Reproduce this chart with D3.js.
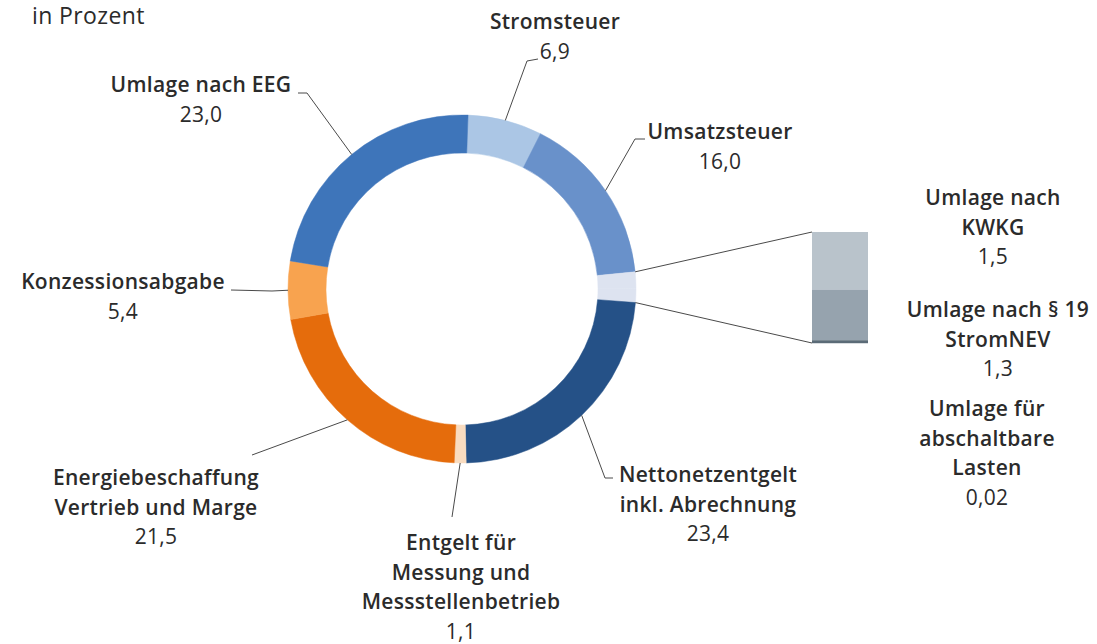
<!DOCTYPE html>
<html>
<head>
<meta charset="utf-8">
<script src="https://cdn.jsdelivr.net/npm/d3@7"></script>
<style>
  body { margin: 0; background: #fff; }
  text { font-family: "Open Sans", "Noto Sans", sans-serif; fill: #2b2b2b; }
</style>
</head>
<body>
<script>
// Anteile am Strompreis, in Prozent
const categories = ["Stromsteuer", "Umsatzsteuer", "Umlage nach KWKG", "Umlage nach § 19 StromNEV",
  "Umlage für abschaltbare Lasten", "Nettonetzentgelt inkl. Abrechnung",
  "Entgelt für Messung und Messstellenbetrieb", "Energiebeschaffung Vertrieb und Marge",
  "Konzessionsabgabe", "Umlage nach EEG"];
const values = [6.9, 16.0, 1.5, 1.3, 0.02, 23.4, 1.1, 21.5, 5.4, 23.0];
const labelLines = [["Stromsteuer"], ["Umsatzsteuer"], ["Umlage nach", "KWKG"], ["Umlage nach § 19", "StromNEV"],
  ["Umlage für", "abschaltbare", "Lasten"], ["Nettonetzentgelt", "inkl. Abrechnung"],
  ["Entgelt für", "Messung und", "Messstellenbetrieb"], ["Energiebeschaffung", "Vertrieb und Marge"],
  ["Konzessionsabgabe"], ["Umlage nach EEG"]];
// die drei kleinen Umlagen werden rechts als Saeule aufgeklappt
const detail = ["Umlage nach KWKG", "Umlage nach § 19 StromNEV", "Umlage für abschaltbare Lasten"];

const ringColors = ["#abc6e5", "#6991ca", "#dde3f0", "#dde3f0", "#dde3f0", "#255187",
  "#f9dcc0", "#e56c0c", "#f8a34f", "#3e75ba"];
const barColors = ["#b9c3cb", "#96a3ae", "#5b6b77"];

const W = 1097, H = 644;
const cx = 462, cy = 289, rOut = 174, rIn = 136;
const startOff = 2 * Math.PI / 180;

// Position der Beschriftungen (x Mitte, y erste Grundlinie) und Knick der Fuehrungslinie
const labelPos = {
  "Stromsteuer": { x: 555, y: 29, pts: [[527, 61], [538, 59]] },
  "Umsatzsteuer": { x: 720, y: 139, pts: [[635, 139], [645, 139]] },
  "Umlage nach KWKG": { x: 993, y: 205 },
  "Umlage nach § 19 StromNEV": { x: 998, y: 317 },
  "Umlage für abschaltbare Lasten": { x: 987, y: 416 },
  "Nettonetzentgelt inkl. Abrechnung": { x: 708, y: 482, pts: [[605, 478], [613, 478]] },
  "Entgelt für Messung und Messstellenbetrieb": { x: 461, y: 550, pts: [[452, 517]] },
  "Energiebeschaffung Vertrieb und Marge": { x: 156, y: 485, pts: [[252, 455]] },
  "Konzessionsabgabe": { x: 123, y: 289, pts: [[272, 291], [231, 290]] },
  "Umlage nach EEG": { x: 201, y: 92, pts: [[307, 93], [298, 93]] }
};

const de = d3.formatLocale({ decimal: ",", thousands: ".", grouping: [3], currency: ["", " €"] });
const fmt = v => v < 0.1 ? de.format(".2f")(v) : de.format(".1f")(v);

const data = categories.map((c, i) => ({ name: c, value: values[i], lines: labelLines[i], color: ringColors[i] }));

const svg = d3.select("body").append("svg").attr("width", W).attr("height", H);
svg.append("rect").attr("width", W).attr("height", H).attr("fill", "#fff");

svg.append("text").attr("x", 32).attr("y", 24)
  .style("font-size", "23px").style("letter-spacing", "0.4px")
  .text("in Prozent");

const pie = d3.pie().sort(null).value(d => d.value)
  .startAngle(startOff).endAngle(startOff + 2 * Math.PI);
const arcs = pie(data);
const arc = d3.arc().innerRadius(rIn).outerRadius(rOut);
const edge = d3.arc().innerRadius(rOut).outerRadius(rOut);
const onEdge = a => [cx + rOut * Math.sin(a), cy - rOut * Math.cos(a)];

const g = svg.append("g").attr("transform", `translate(${cx},${cy})`);
g.selectAll("path").data(arcs).join("path")
  .attr("d", arc)
  .attr("fill", d => d.data.color)
  .attr("stroke", d => d.data.color)
  .attr("stroke-width", 0.5);

// Fuehrungslinien
const line = d3.line();
arcs.filter(d => labelPos[d.data.name].pts).forEach(d => {
  const c = edge.centroid(d);
  const pts = [[cx + c[0], cy + c[1]]].concat(labelPos[d.data.name].pts);
  svg.append("path").attr("d", line(pts))
    .attr("fill", "none").attr("stroke", "#4a4a4a").attr("stroke-width", 1);
});

// Saeule fuer die kleinen Umlagen
const detailArcs = arcs.filter(d => detail.includes(d.data.name));
const detailSum = d3.sum(detailArcs, d => d.data.value);
const barX = 812, barW = 56;
const y = d3.scaleLinear().domain([0, detailSum]).range([232, 341]);
let acc = 0;
detailArcs.forEach((d, i) => {
  const y0 = y(acc);
  acc += d.data.value;
  const h = Math.max(3, y(acc) - y0);
  svg.append("rect").attr("x", barX).attr("y", y0).attr("width", barW).attr("height", h)
    .attr("fill", barColors[i]);
});
const barBottom = y(detailSum) + 2;
const pTop = onEdge(detailArcs[0].startAngle);
const pBot = onEdge(detailArcs[detailArcs.length - 1].endAngle);
svg.append("path").attr("d", line([pTop, [barX, y(0)]]))
  .attr("fill", "none").attr("stroke", "#4a4a4a").attr("stroke-width", 1);
svg.append("path").attr("d", line([pBot, [barX, barBottom]]))
  .attr("fill", "none").attr("stroke", "#4a4a4a").attr("stroke-width", 1);

// Beschriftungen
const lh = 29.5;
data.forEach(d => {
  const p = labelPos[d.name];
  const t = svg.append("text").attr("text-anchor", "middle")
    .style("font-size", "21px").style("letter-spacing", "0.3px");
  d.lines.forEach((l, i) => {
    t.append("tspan").attr("x", p.x).attr("y", p.y + i * lh)
      .style("font-weight", 600).text(l);
  });
  t.append("tspan").attr("x", p.x).attr("y", p.y + d.lines.length * lh)
    .style("font-weight", 400).text(fmt(d.value));
});
</script>
</body>
</html>
